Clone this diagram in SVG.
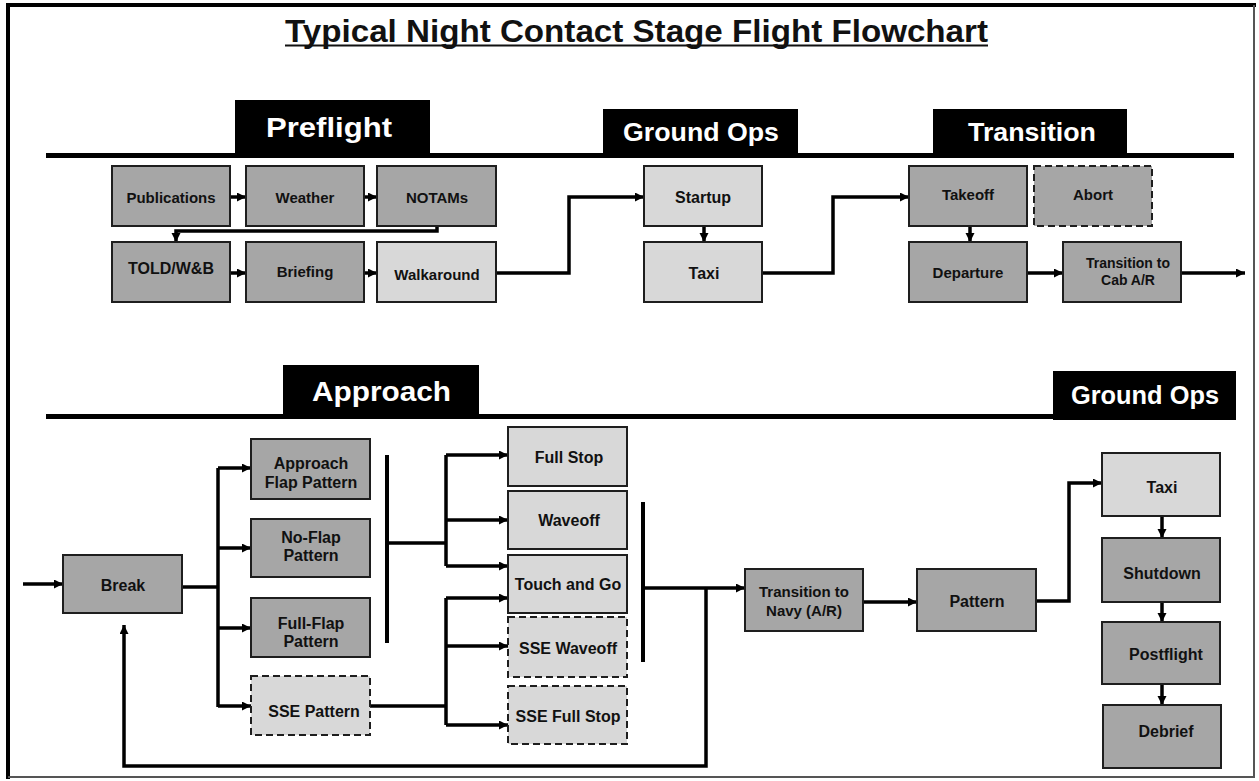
<svg xmlns="http://www.w3.org/2000/svg" width="1259" height="781" viewBox="0 0 1259 781">
<defs>
<marker id="ah" markerUnits="userSpaceOnUse" markerWidth="10" markerHeight="10" refX="9" refY="4.5" orient="auto">
<path d="M0,0 L9,4.5 L0,9 z" fill="#000"/>
</marker>
<style>
text{font-family:"Liberation Sans",Arial,sans-serif;font-weight:bold;text-anchor:middle;fill:#111;}
.med{fill:#a6a6a6;stroke:#1e1e1e;stroke-width:2;}
.lt{fill:#d8d8d8;stroke:#1e1e1e;stroke-width:2;}
.dash{stroke-dasharray:7,4;}
.t14{font-size:14px;}
.t15{font-size:15px;}
.t16{font-size:16px;}
.tab{fill:#000;}
.tabt{fill:#fff;}
.conn path{fill:none;stroke:#000;stroke-width:3.5;}
.conn path.a{marker-end:url(#ah);}
.conn path.bar{stroke-width:4;}
</style>
</defs>
<rect x="0" y="0" width="1259" height="781" fill="#fff"/>
<!-- border -->
<path d="M8,779 V5 H1256" fill="none" stroke="#000" stroke-width="4"/>
<path d="M1254,5 V777 H8" fill="none" stroke="#555" stroke-width="2"/>

<!-- title -->
<g id="title">
<text x="636.5" y="42" style="font-size:31px" textLength="703" lengthAdjust="spacingAndGlyphs">Typical Night Contact Stage Flight Flowchart</text>
<rect x="285" y="44.5" width="703" height="2" fill="#111"/>
</g>

<!-- section headers -->
<g id="header-top">
<rect x="46" y="153" width="1188" height="5" class="tab"/>
<g id="tab-preflight"><rect x="235" y="100" width="195" height="57" class="tab"/><text x="329" y="137" class="tabt" style="font-size:28px" textLength="126" lengthAdjust="spacingAndGlyphs">Preflight</text></g>
<g id="tab-groundops1"><rect x="603" y="109" width="195" height="48" class="tab"/><text x="701" y="141" class="tabt" style="font-size:26px" textLength="156" lengthAdjust="spacingAndGlyphs">Ground Ops</text></g>
<g id="tab-transition"><rect x="933" y="109" width="194" height="48" class="tab"/><text x="1032" y="141" class="tabt" style="font-size:26px" textLength="128" lengthAdjust="spacingAndGlyphs">Transition</text></g>
</g>
<g id="header-bottom">
<rect x="46" y="414" width="1010" height="5" class="tab"/>
<g id="tab-approach"><rect x="283" y="365" width="196" height="54" class="tab"/><text x="381.5" y="401" class="tabt" style="font-size:27px" textLength="139" lengthAdjust="spacingAndGlyphs">Approach</text></g>
<g id="tab-groundops2"><rect x="1053" y="371" width="183" height="49" class="tab"/><text x="1145" y="404" class="tabt" style="font-size:25px" textLength="148" lengthAdjust="spacingAndGlyphs">Ground Ops</text></g>
</g>

<!-- connectors -->
<g id="connectors" class="conn">
<path class="a" d="M230,197 H246"/>
<path class="a" d="M364,197 H377"/>
<path class="a" d="M437,226 V231 H176 V242"/>
<path class="a" d="M230,273 H246"/>
<path class="a" d="M364,273 H377"/>
<path class="a" d="M496,273 H569 V197 H644"/>
<path class="a" d="M704,226 V242"/>
<path class="a" d="M762,273 H833 V197 H909"/>
<path class="a" d="M970,226 V242"/>
<path class="a" d="M1027,273 H1063"/>
<path class="a" d="M1181,273 H1245"/>

<path class="a" d="M23,584 H63"/>
<path d="M182,587 H218"/>
<path d="M218,468 V707"/>
<path class="a" d="M218,468 H251"/>
<path class="a" d="M218,548 H251"/>
<path class="a" d="M218,628 H251"/>
<path class="a" d="M218,706 H251"/>
<path class="bar" d="M387,455 V643"/>
<path d="M387,543 H446"/>
<path d="M446,455 V566"/>
<path class="a" d="M446,455 H508"/>
<path class="a" d="M446,520 H508"/>
<path class="a" d="M446,566 H508"/>
<path d="M370,706 H446"/>
<path d="M446,598 V725"/>
<path class="a" d="M446,598 H508"/>
<path class="a" d="M446,646 H508"/>
<path class="a" d="M446,725 H508"/>
<path class="bar" d="M643,502 V662"/>
<path class="a" d="M643,588 H745"/>
<path class="a" d="M706,588 V766 H124 V625"/>
<path class="a" d="M863,602 H917"/>
<path class="a" d="M1036,601 H1069 V483 H1102"/>
<path class="a" d="M1162,516 V538"/>
<path class="a" d="M1162,602 V622"/>
<path class="a" d="M1162,684 V705"/>
</g>

<!-- top nodes -->
<g id="publications"><rect x="112" y="166" width="118" height="60" class="med"/><text x="171" y="203" class="t15">Publications</text></g>
<g id="weather"><rect x="246" y="166" width="118" height="60" class="med"/><text x="305" y="203" class="t15">Weather</text></g>
<g id="notams"><rect x="377" y="166" width="119" height="60" class="med"/><text x="437" y="203" class="t15">NOTAMs</text></g>
<g id="told"><rect x="112" y="242" width="118" height="60" class="med"/><text x="171" y="274" class="t16">TOLD/W&amp;B</text></g>
<g id="briefing"><rect x="246" y="242" width="118" height="60" class="med"/><text x="305" y="277" class="t15">Briefing</text></g>
<g id="walkaround"><rect x="377" y="242" width="119" height="60" class="lt"/><text x="437" y="280" class="t15">Walkaround</text></g>
<g id="startup"><rect x="644" y="166" width="118" height="60" class="lt"/><text x="703" y="203" class="t16">Startup</text></g>
<g id="taxi-top"><rect x="644" y="242" width="118" height="60" class="lt"/><text x="704" y="279" class="t16">Taxi</text></g>
<g id="takeoff"><rect x="909" y="166" width="118" height="60" class="med"/><text x="968" y="200" class="t15">Takeoff</text></g>
<g id="abort"><rect x="1034" y="166" width="118" height="60" class="med dash"/><text x="1093" y="200" class="t15">Abort</text></g>
<g id="departure"><rect x="909" y="242" width="118" height="60" class="med"/><text x="968" y="278" class="t15">Departure</text></g>
<g id="transition-cab"><rect x="1063" y="242" width="118" height="60" class="med"/><text x="1128" y="268" class="t14">Transition to</text><text x="1128" y="285" class="t14">Cab A/R</text></g>

<!-- bottom nodes -->
<g id="break"><rect x="63" y="555" width="119" height="58" class="med"/><text x="123" y="591" class="t16">Break</text></g>
<g id="approach-flap"><rect x="251" y="439" width="119" height="60" class="med"/><text x="311" y="469" class="t16">Approach</text><text x="311" y="488" class="t16">Flap Pattern</text></g>
<g id="no-flap"><rect x="251" y="519" width="119" height="58" class="med"/><text x="311" y="543" class="t16">No-Flap</text><text x="311" y="561" class="t16">Pattern</text></g>
<g id="full-flap"><rect x="251" y="598" width="119" height="59" class="med"/><text x="311" y="629" class="t16">Full-Flap</text><text x="311" y="647" class="t16">Pattern</text></g>
<g id="sse-pattern"><rect x="251" y="676" width="119" height="59" class="lt dash"/><text x="314" y="717" class="t16">SSE Pattern</text></g>
<g id="full-stop"><rect x="508" y="427" width="119" height="59" class="lt"/><text x="569" y="463" class="t16">Full Stop</text></g>
<g id="waveoff"><rect x="508" y="491" width="119" height="58" class="lt"/><text x="569" y="526" class="t16">Waveoff</text></g>
<g id="touch-and-go"><rect x="508" y="555" width="119" height="58" class="lt"/><text x="568" y="590" class="t16">Touch and Go</text></g>
<g id="sse-waveoff"><rect x="508" y="617" width="119" height="60" class="lt dash"/><text x="568" y="654" class="t16">SSE Waveoff</text></g>
<g id="sse-full-stop"><rect x="508" y="686" width="119" height="58" class="lt dash"/><text x="568" y="722" class="t16">SSE Full Stop</text></g>
<g id="transition-navy"><rect x="745" y="569" width="118" height="62" class="med"/><text x="804" y="597" class="t15">Transition to</text><text x="804" y="616" class="t15">Navy (A/R)</text></g>
<g id="pattern"><rect x="917" y="569" width="119" height="62" class="med"/><text x="977" y="607" class="t16">Pattern</text></g>
<g id="taxi-bottom"><rect x="1102" y="453" width="118" height="63" class="lt"/><text x="1162" y="493" class="t16">Taxi</text></g>
<g id="shutdown"><rect x="1102" y="538" width="118" height="64" class="med"/><text x="1162" y="579" class="t16">Shutdown</text></g>
<g id="postflight"><rect x="1102" y="622" width="118" height="62" class="med"/><text x="1166" y="660" class="t16">Postflight</text></g>
<g id="debrief"><rect x="1103" y="705" width="118" height="63" class="med"/><text x="1166" y="737" class="t16">Debrief</text></g>
</svg>
